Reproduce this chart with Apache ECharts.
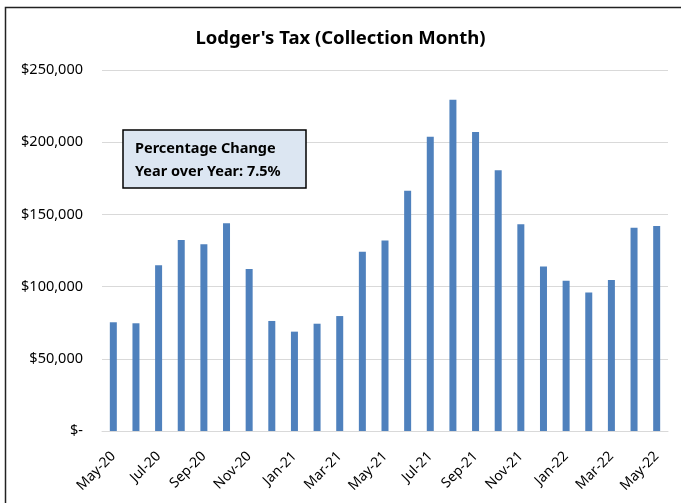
<!DOCTYPE html>
<html>
<head>
<meta charset="utf-8">
<script src="https://cdn.jsdelivr.net/npm/echarts@6/dist/echarts.min.js"></script>
<style>
  html, body { margin: 0; padding: 0; background: #fff; }
  #chart { width: 681px; height: 503px; }
</style>
</head>
<body>
<div id="chart"></div>
<script>
  // monthly collections
  var months = ['May-20', 'Jun-20', 'Jul-20', 'Aug-20', 'Sep-20', 'Oct-20', 'Nov-20', 'Dec-20',
    'Jan-21', 'Feb-21', 'Mar-21', 'Apr-21', 'May-21', 'Jun-21', 'Jul-21', 'Aug-21', 'Sep-21',
    'Oct-21', 'Nov-21', 'Dec-21', 'Jan-22', 'Feb-22', 'Mar-22', 'Apr-22', 'May-22']
  var collections = [75300, 74600, 114700, 132300, 129300, 143800, 112200, 76200,
    68800, 74300, 79600, 124200, 132000, 166400, 203800, 229400, 207100,
    180500, 143100, 114000, 104100, 96000, 104600, 140800, 142000]
  var noteLines = ['Percentage Change', 'Year over Year: 7.5%']

  var font = '"Noto Sans", sans-serif'
  var chart = echarts.init(document.getElementById('chart'))

  chart.setOption({
    animation: false,
    title: {
      text: "Lodger's Tax (Collection Month)",
      left: 'center',
      top: 24,
      textStyle: { fontFamily: font, fontSize: 18.5, fontWeight: 'bold', color: '#000' }
    },
    grid: { left: 102, right: 13, top: 70, bottom: 72 },
    xAxis: {
      type: 'category',
      data: months,
      axisLine: { lineStyle: { color: '#d9d9d9' } },
      axisTick: { interval: 1, length: 5, lineStyle: { color: '#d9d9d9' } },
      axisLabel: {
        interval: 1,
        rotate: 45,
        margin: 23,
        fontFamily: font,
        fontSize: 14,
        color: '#000'
      }
    },
    yAxis: {
      type: 'value',
      min: 0,
      max: 250000,
      interval: 50000,
      axisLine: { show: false },
      axisTick: { show: false },
      splitLine: { lineStyle: { color: '#d9d9d9' } },
      axisLabel: {
        margin: 19,
        fontFamily: font,
        fontSize: 14.5,
        color: '#000',
        formatter: function (v) {
          return v === 0 ? '$-' : '$' + v.toLocaleString('en-US')
        }
      }
    },
    series: [{
      type: 'bar',
      data: collections,
      barWidth: 7,
      itemStyle: { color: '#4f81bd' }
    }],
    graphic: [
      {
        type: 'rect',
        shape: { x: 5.5, y: 7.5, width: 720, height: 600 },
        style: { fill: 'none', stroke: '#222', lineWidth: 1.5 },
        silent: true
      },
      {
        type: 'rect',
        shape: { x: 123, y: 130, width: 183, height: 58 },
        style: { fill: '#dce6f2', stroke: '#000', lineWidth: 1.5 },
        z: 10
      },
      {
        type: 'text',
        left: 135,
        top: 137,
        z: 11,
        style: {
          text: noteLines.join('\n'),
          fontFamily: font,
          fontSize: 14.5,
          fontWeight: 'bold',
          lineHeight: 23,
          fill: '#000'
        }
      }
    ]
  })
</script>
</body>
</html>
